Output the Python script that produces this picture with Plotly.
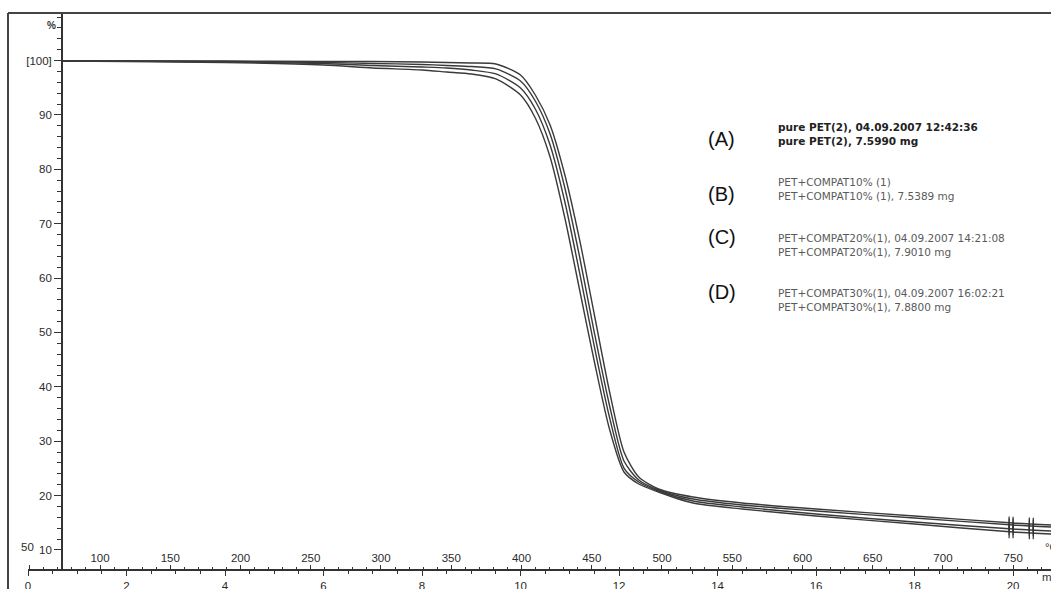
import plotly.graph_objects as go

# ---- data ----
time_min = [0.7, 2, 4, 6, 7, 8, 8.5, 9, 9.5, 10, 10.3, 10.6, 10.9, 11.2, 11.5,
            11.8, 12.1, 12.4, 12.8, 13.5, 14.5, 16, 18, 20, 20.77]

mass_A = [99.93, 99.93, 99.93, 99.83, 99.83, 99.74, 99.65, 99.56, 99.37, 97.35,
          93.67, 88.16, 78.96, 67.01, 53.21, 39.42, 28.02, 23.42, 21.21, 19.74,
          18.64, 17.53, 16.25, 14.96, 14.59]
mass_B = [99.93, 99.93, 99.83, 99.65, 99.47, 99.28, 99.10, 98.91, 98.46, 96.25,
          92.57, 86.50, 76.57, 63.88, 49.90, 36.85, 26.36, 22.87, 21.03, 19.37,
          18.27, 17.17, 15.88, 14.59, 14.22]
mass_C = [99.93, 99.93, 99.74, 99.47, 99.10, 98.82, 98.64, 98.27, 97.54, 94.96,
          91.10, 84.48, 73.99, 60.94, 47.33, 34.64, 25.07, 22.50, 20.84, 19.00,
          17.90, 16.61, 15.14, 13.85, 13.49]
mass_D = [99.93, 99.83, 99.65, 99.19, 98.64, 98.27, 97.90, 97.54, 96.62, 93.67,
          89.44, 82.27, 71.05, 57.81, 44.57, 32.43, 24.34, 22.13, 20.66, 18.64,
          17.53, 16.25, 14.77, 13.30, 12.94]

# evaluation marks near the end of the run ("||" marks)
mark_time = [19.92, 20.0, 20.33, 20.41]
mark_A = [14.98, 14.96, 14.80, 14.78]
mark_B = [14.61, 14.59, 14.44, 14.42]
mark_C = [13.87, 13.85, 13.70, 13.68]
mark_D = [13.32, 13.30, 13.15, 13.13]

series_labels = ["(A)", "(B)", "(C)", "(D)"]
series_line1 = ["pure PET(2), 04.09.2007 12:42:36",
                "PET+COMPAT10% (1)",
                "PET+COMPAT20%(1), 04.09.2007 14:21:08",
                "PET+COMPAT30%(1), 04.09.2007 16:02:21"]
series_line2 = ["pure PET(2), 7.5990 mg",
                "PET+COMPAT10% (1), 7.5389 mg",
                "PET+COMPAT20%(1), 7.9010 mg",
                "PET+COMPAT30%(1), 7.8800 mg"]

y_ticks = [10, 20, 30, 40, 50, 60, 70, 80, 90, 100]
y_ticktext = ["10", "20", "30", "40", "50", "60", "70", "80", "90", "[100]"]
time_ticks = [0, 2, 4, 6, 8, 10, 12, 14, 16, 18, 20]
temp_ticks = [50, 100, 150, 200, 250, 300, 350, 400, 450, 500, 550, 600, 650, 700, 750]

FONT = "Liberation Sans, Arial, sans-serif"
W, H = 1051, 589
ML, MR, MT, MB = 28, 0, 13, 20
PW, PH = W - ML - MR, H - MT - MB

fig = go.Figure()
for m in [mass_A, mass_B, mass_C, mass_D]:
    fig.add_trace(go.Scatter(x=time_min, y=m, mode="lines",
                             line=dict(color="#3a3a3a", width=1.4, shape="spline", smoothing=0.7),
                             showlegend=False, hoverinfo="skip"))
for mk in [mark_A, mark_B, mark_C, mark_D]:
    fig.add_trace(go.Scatter(x=mark_time, y=mk, mode="markers",
                             marker=dict(symbol="line-ns", size=9,
                                         line=dict(color="#333", width=1.2)),
                             showlegend=False, hoverinfo="skip"))
# invisible trace to carry the temperature axis
fig.add_trace(go.Scatter(x=[temp_ticks[0], temp_ticks[-1]], y=[None, None], xaxis="x2",
                         mode="lines", showlegend=False, hoverinfo="skip"))

tick_font = dict(family=FONT, size=11.5, color="#2a2a2a")
temp_text = [str(t) for t in temp_ticks]
temp_text[0] = ""

fig.update_layout(
    width=W, height=H,
    margin=dict(l=ML, r=MR, t=MT, b=MB, autoexpand=False),
    paper_bgcolor="white", plot_bgcolor="white",
    xaxis=dict(range=[0, 20.77], tickvals=time_ticks, ticks="outside", ticklen=5,
               tickwidth=1.2, tickcolor="#333", showline=True, linecolor="#333",
               linewidth=1.5, showgrid=False, zeroline=False, tickfont=tick_font,
               ticklabelstandoff=0, automargin=False,
               minor=dict(ticks="outside", ticklen=3, dtick=0.5, tick0=0, tickcolor="#333")),
    xaxis2=dict(range=[48.75, 776.9], overlaying="x", anchor="y", side="bottom",
                tickvals=temp_ticks, ticktext=temp_text, ticks="inside", ticklen=4,
                tickwidth=1.2, tickcolor="#333", ticklabelposition="inside",
                showline=False, showgrid=False, zeroline=False, tickfont=tick_font,
                automargin=False,
                minor=dict(ticks="inside", ticklen=2, dtick=10, tick0=50, tickcolor="#333")),
    yaxis=dict(range=[6.5, 108.75], anchor="free", position=(62 - ML) / PW,
               tickvals=y_ticks, ticktext=y_ticktext, ticks="outside", ticklen=7,
               tickwidth=1.3, tickcolor="#333", showline=True, linecolor="#333",
               linewidth=1.8, showgrid=False, zeroline=False, tickfont=tick_font,
               automargin=False,
               minor=dict(ticks="outside", ticklen=4, dtick=2, tick0=0, tickcolor="#333")),
)

# outer frame (top and left)
fx = -(ML - 8) / PW
fig.add_shape(type="line", xref="paper", yref="paper", x0=fx, x1=1.0, y0=1, y1=1,
              line=dict(color="#444", width=2))
fig.add_shape(type="line", xref="paper", yref="paper", x0=fx, x1=fx, y0=-0.05, y1=1,
              line=dict(color="#444", width=2))

def px2paper_x(x):
    return (x - ML) / PW

def px2paper_y(y):
    return 1 - (y - MT) / PH

# unit labels and the first temperature label
fig.add_annotation(x=px2paper_x(45), y=px2paper_y(18), xref="paper", yref="paper",
                   text="<b>%</b>", showarrow=False, font=dict(family=FONT, size=10, color="#333"))
fig.add_annotation(x=px2paper_x(1040), y=px2paper_y(585), xref="paper", yref="paper",
                   xanchor="left", text="min", showarrow=False,
                   font=dict(family=FONT, size=11.5, color="#333"))
fig.add_annotation(x=px2paper_x(1043), y=px2paper_y(555), xref="paper", yref="paper",
                   xanchor="left", text="°C", showarrow=False,
                   font=dict(family=FONT, size=11.5, color="#333"))
fig.add_annotation(x=px2paper_x(19), y=px2paper_y(555), xref="paper", yref="paper",
                   text="50", showarrow=False, font=tick_font)

# series legend text block
label_y = [126, 181, 237, 292]
for i in range(4):
    fig.add_annotation(x=px2paper_x(706), y=px2paper_y(label_y[i]), xref="paper", yref="paper",
                       xanchor="left", text=series_labels[i], showarrow=False,
                       font=dict(family=FONT, size=20, color="#111"))
    col = "#222" if i == 0 else "#5a5a5a"
    if i == 0:
        txt = "<b>" + series_line1[i] + "</b><br><b>" + series_line2[i] + "</b>"
    else:
        txt = series_line1[i] + "<br>" + series_line2[i]
    fig.add_annotation(x=px2paper_x(776), y=px2paper_y(label_y[i] + 8), xref="paper", yref="paper",
                       xanchor="left", yanchor="middle", align="left", text=txt, showarrow=False,
                       font=dict(family="DejaVu Sans, sans-serif", size=10.5, color=col))

fig.write_html("out.html")
